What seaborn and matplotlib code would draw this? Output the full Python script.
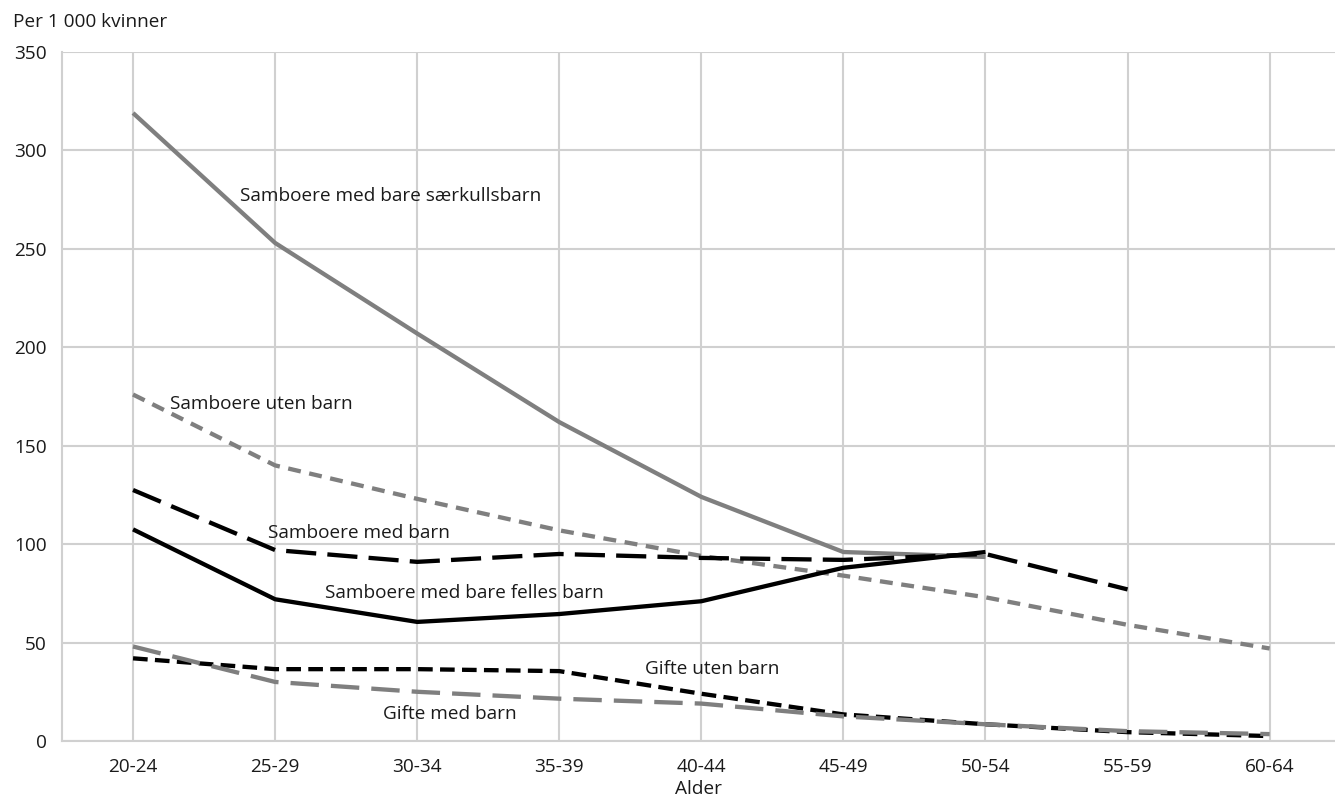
import matplotlib
matplotlib.use("Agg")
import matplotlib.pyplot as plt
import seaborn as sns
import numpy as np
import pandas as pd

categories = ["20-24", "25-29", "30-34", "35-39", "40-44", "45-49", "50-54", "55-59", "60-64"]

saerkull = [319, 253, 207, 162, 124, 96, 93.5, None, None]
uten_barn = [176, 140, 123, 107, 94, 84, 73, 59, 47]
med_barn = [127.5, 97, 91, 95, 93, 92, 95, 77, None]
felles = [107.5, 72, 60.5, 64.5, 71, 88, 96, None, None]
gifte_uten = [42, 36.5, 36.5, 35.5, 24, 13.5, 8.5, 4.5, 2.5]
gifte_med = [48, 30, 25, 21.5, 19, 12.5, 8.5, 5, 3.5]

names = ["Samboere med bare særkullsbarn", "Samboere uten barn", "Samboere med barn",
         "Samboere med bare felles barn", "Gifte uten barn", "Gifte med barn"]
series = [saerkull, uten_barn, med_barn, felles, gifte_uten, gifte_med]

GRAY = "#7f7f7f"
colors = [GRAY, GRAY, "#000000", "#000000", "#000000", GRAY]
dashes = [None, (3.0, 2.0), (7.0, 2.6), None, (3.4, 1.7), (6.6, 2.8)]

label_pos = [(0.75, 277), (0.26, 171), (0.95, 105.5), (1.35, 75), (3.6, 36.5), (1.76, 13.7)]

sns.set_theme(style="white")
plt.rcParams['font.family'] = ['Open Sans', 'DejaVu Sans']

FS = 13.7
TXT = "#1a1a1a"

fig = plt.figure(figsize=(13.35, 7.98), dpi=100)
ax = fig.add_axes([62/1335, 57/798, (1335-62)/1335, (741-52)/798])

x = np.arange(len(categories))
for name, vals, c, d in zip(names, series, colors, dashes):
    df = pd.DataFrame({"x": x, "y": [np.nan if v is None else v for v in vals]}).dropna()
    sns.lineplot(data=df, x="x", y="y", ax=ax, color=c, linewidth=3.1, estimator=None)
    ln = ax.lines[-1]
    ln.set_solid_capstyle("butt")
    ln.set_dash_capstyle("butt")
    if d is not None:
        ln.set_dashes(d)

for name, (lx, ly) in zip(names, label_pos):
    ax.text(lx, ly, name, fontsize=FS, color=TXT, va="center", ha="left")

ax.set_xlim(-0.5, 8.46)
ax.set_ylim(0, 350)
ax.set_yticks(np.arange(0, 351, 50))
ax.set_xticks(x)
ax.set_xticklabels(categories)
ax.grid(True, color="#d0d0d0", linewidth=1.5)
ax.set_axisbelow(True)
for s in ["top", "right"]:
    ax.spines[s].set_visible(False)
for s in ["left", "bottom"]:
    ax.spines[s].set_color("#d0d0d0")
    ax.spines[s].set_linewidth(1.5)
ax.tick_params(axis="x", length=0, labelsize=FS, colors=TXT, pad=12)
ax.tick_params(axis="y", length=0, labelsize=FS, colors=TXT, pad=11)
ax.set_xlabel("Alder", fontsize=FS, color=TXT, labelpad=3)
ax.set_ylabel("")
fig.text(13/1335, 1 - 22/798, "Per 1 000 kvinner", fontsize=FS, color=TXT, va="center", ha="left")

fig.savefig("out.png", dpi=100)
